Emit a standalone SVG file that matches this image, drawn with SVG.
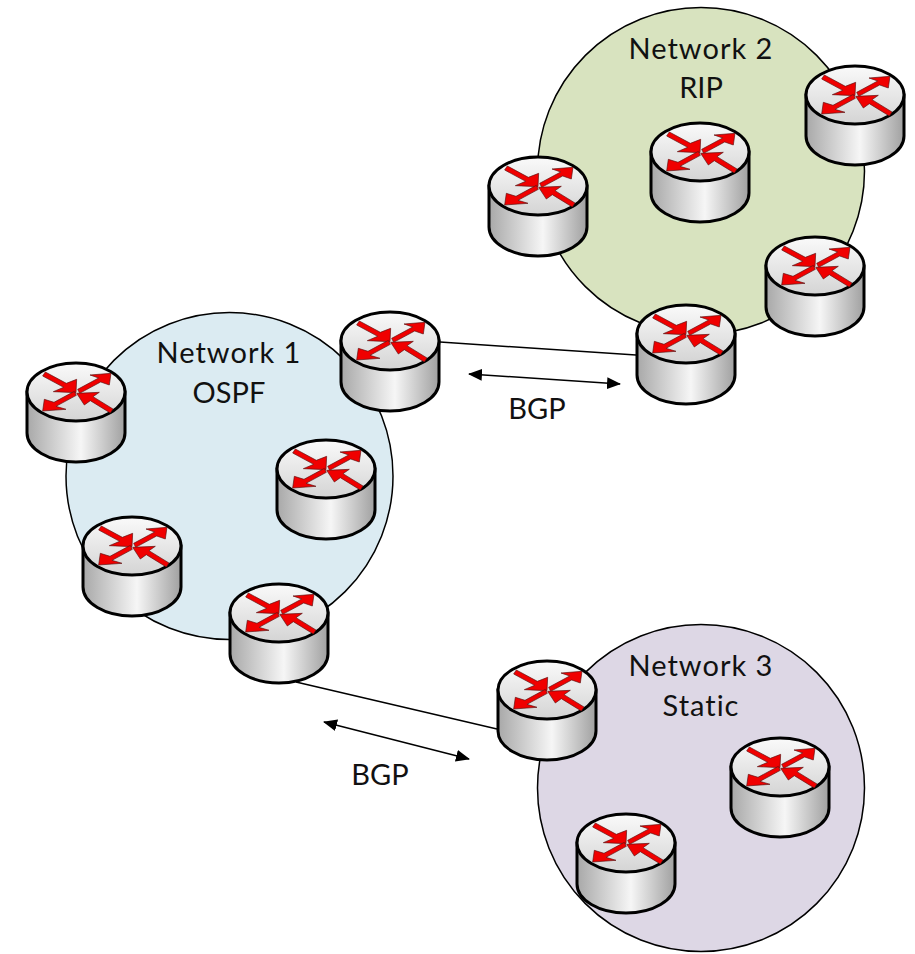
<svg xmlns="http://www.w3.org/2000/svg" xmlns:xlink="http://www.w3.org/1999/xlink" width="915" height="954" viewBox="0 0 915 954">
<style>
.net{stroke:#000;stroke-width:1.5}
.t{font-family:Lato,"Open Sans",sans-serif;font-size:29px;fill:#111;text-anchor:middle;font-variant-ligatures:none}
.w{letter-spacing:1px}
.conn{stroke:#000;stroke-width:1.5;fill:none}
.arr{stroke:#000;stroke-width:1.5;fill:none;marker-start:url(#ah);marker-end:url(#ah)}
.ar{fill:#f00000;stroke:#5a1010;stroke-width:2;stroke-linejoin:miter}
</style>
<defs>
<marker id="ah" viewBox="0 0 14 12" refX="13" refY="6" markerWidth="14" markerHeight="12" markerUnits="userSpaceOnUse" orient="auto-start-reverse"><path d="M0 0L14 6L0 12Z" fill="#000"/></marker>
<linearGradient id="side" x1="0" x2="1" y1="0" y2="0"><stop offset="0" stop-color="#a8a8a8"/><stop offset=".55" stop-color="#f6f6f6"/><stop offset="1" stop-color="#a0a0a0"/></linearGradient>
<linearGradient id="top" x1="0" x2="0" y1="0" y2="1"><stop offset="0" stop-color="#fafafa"/><stop offset="1" stop-color="#d4d4d4"/></linearGradient>
<symbol id="router" overflow="visible">
<path d="M1 30V71C1 87 23 100 50 100S99 87 99 71V30Z" fill="url(#side)" stroke="#000" stroke-width="3"/>
<ellipse cx="50" cy="30" rx="49" ry="29" fill="url(#top)" stroke="#000" stroke-width="3"/>
<g transform="translate(-10 -12) scale(.3333)">
<polygon class="ar" points="88,66 151,100 182,88 180,128 112,125 143,112 80,78"/>
<polygon class="ar" points="185,118 248,84 222,75 285,70 280,105 254,96 191,130"/>
<polygon class="ar" points="175,124 114,157 85,148 80,183 150,178 120,169 181,136"/>
<polygon class="ar" points="182,130 250,127 231,140 291,177 283,189 223,152 205,165"/>
</g>
</symbol>
</defs>
<g id="network-2"><circle class="net" cx="701" cy="171" r="163.5" fill="#d8e3bf"/><text class="t w" x="701" y="59">Network 2</text><text class="t" x="701" y="98">RIP</text></g>
<g id="network-1"><circle class="net" cx="229.5" cy="476" r="163.5" fill="#dbebf2"/><text class="t w" x="229" y="363">Network 1</text><text class="t" x="229" y="403">OSPF</text></g>
<g id="network-3"><circle class="net" cx="701" cy="788" r="163.5" fill="#ddd7e5"/><text class="t w" x="701" y="676">Network 3</text><text class="t w" x="701" y="716">Static</text></g>
<g id="connectors">
<line class="conn" x1="440" y1="342" x2="636" y2="355"/>
<line class="conn" x1="296" y1="682" x2="497" y2="729"/>
<line class="arr" x1="469" y1="374" x2="620" y2="384"/>
<line class="arr" x1="324" y1="722" x2="469" y2="759"/>
</g>
<g id="label-bgp-1"><text class="t" x="537" y="419">BGP</text></g>
<g id="label-bgp-2"><text class="t" x="380" y="785">BGP</text></g>
<g id="r1"><use href="#router" x="650" y="122"/></g>
<g id="r2"><use href="#router" x="805" y="65"/></g>
<g id="r3"><use href="#router" x="488" y="156"/></g>
<g id="r4"><use href="#router" x="765" y="236"/></g>
<g id="r5"><use href="#router" x="636" y="304"/></g>
<g id="r6"><use href="#router" x="340" y="311"/></g>
<g id="r7"><use href="#router" x="26" y="362"/></g>
<g id="r8"><use href="#router" x="276" y="439"/></g>
<g id="r9"><use href="#router" x="82" y="516"/></g>
<g id="r10"><use href="#router" x="229" y="583"/></g>
<g id="r11"><use href="#router" x="497" y="660"/></g>
<g id="r12"><use href="#router" x="730" y="737"/></g>
<g id="r13"><use href="#router" x="576" y="813"/></g>
</svg>
